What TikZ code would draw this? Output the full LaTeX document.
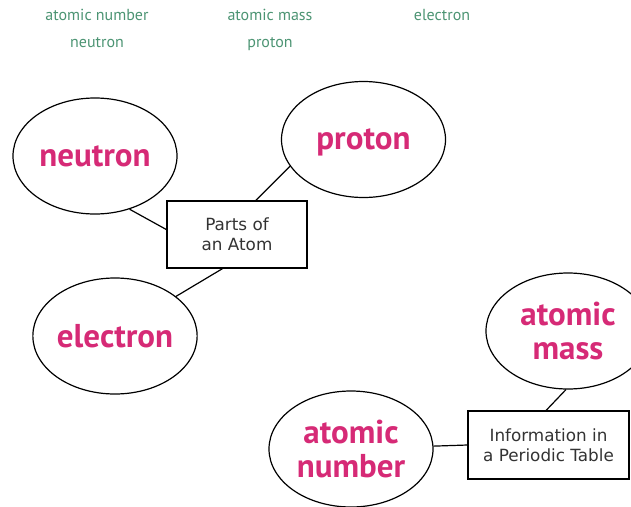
\documentclass[tikz,border=0pt]{standalone}
\usepackage{fontspec}
\setmainfont{DejaVu Sans}
\newfontfamily\labelfont{PT Sans}
\usetikzlibrary{shapes.geometric}
\definecolor{termgreen}{HTML}{4C9473}
\definecolor{conceptpink}{HTML}{D62A76}
\definecolor{boxtext}{HTML}{333333}
\tikzset{
  concept/.style={ellipse, draw=black, line width=1.2pt, minimum width=164pt, minimum height=116pt, inner sep=0pt,
    text=conceptpink, font=\labelfont\bfseries\fontsize{33}{34}\selectfont, align=center},
  hub/.style={rectangle, draw=black, line width=1.2pt, inner sep=0pt, text=boxtext,
    font=\fontsize{16.8}{20}\selectfont, align=center},
  term/.style={text=termgreen, font=\labelfont\fontsize{16}{16}\selectfont, inner sep=0pt, anchor=base},
  link/.style={draw=black, line width=1.2pt}
}
\begin{document}
\begin{tikzpicture}[x=1pt, y=-1pt]
\useasboundingbox (0,0) rectangle (631,506);
\begin{scope}
\clip (0,0) rectangle (631,506);
% word bank
\node[term] (w1) at (97,20) {atomic number};
\node[term] (w2) at (270,20) {atomic mass};
\node[term] (w3) at (442,20) {electron};
\node[term] (w4) at (97,47) {neutron};
\node[term] (w5) at (270,47) {proton};
% parts of an atom
\node[hub, minimum width=140pt, minimum height=67pt] (pa) at (237,234.5) {Parts of\\an Atom};
\node[concept] (neu) at (95,156) {neutron};
\node[concept, text depth=0pt] (pro) at (363.5,139.5) {proton};
\node[concept] (ele) at (115,336) {electron};
\draw[link] (neu.-57) -- (pa.176);
\draw[link] (pro.200) -- (pa.61);
\draw[link] (ele.33) -- (pa.247);
% periodic table
\node[hub, minimum width=161pt, minimum height=68pt] (ip) at (548.5,445) {Information in\\a Periodic Table};
\node[concept] (am) at (568,331) {atomic\\mass};
\node[concept] (an) at (351,449) {atomic\\number};
\draw[link] (am.-92) -- (ip.94);
\draw[link] (an.2.5) -- (ip.180.5);
\end{scope}
\end{tikzpicture}
\end{document}
